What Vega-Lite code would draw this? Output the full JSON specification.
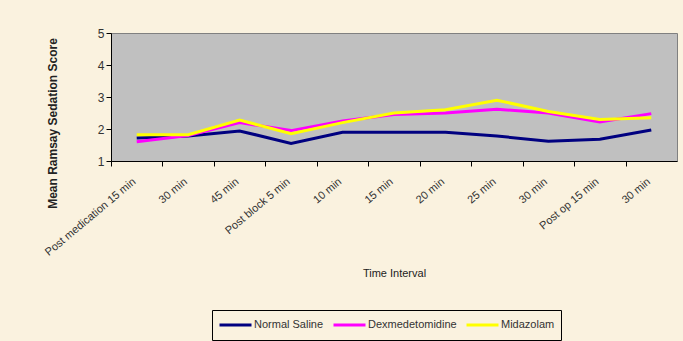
{
  "$schema": "https://vega.github.io/schema/vega-lite/v6.json",
  "autosize": "none",
  "width": 566,
  "height": 128,
  "padding": {"left": 111, "top": 33, "right": 6, "bottom": 180},
  "background": "#faf2df",
  "config": {
    "view": {"fill": "#c0c0c0", "stroke": "#808080", "strokeWidth": 1},
    "font": "Liberation Sans"
  },
  "data": {
    "values": [
      {"step": "Post medication 15 min", "group": "Normal Saline", "score": 1.72},
      {"step": "30 min (pm)", "group": "Normal Saline", "score": 1.78},
      {"step": "45 min (pm)", "group": "Normal Saline", "score": 1.94},
      {"step": "Post block 5 min", "group": "Normal Saline", "score": 1.55},
      {"step": "10 min (pb)", "group": "Normal Saline", "score": 1.9},
      {"step": "15 min (pb)", "group": "Normal Saline", "score": 1.9},
      {"step": "20 min (pb)", "group": "Normal Saline", "score": 1.9},
      {"step": "25 min (pb)", "group": "Normal Saline", "score": 1.78},
      {"step": "30 min (pb)", "group": "Normal Saline", "score": 1.62},
      {"step": "Post op 15 min", "group": "Normal Saline", "score": 1.68},
      {"step": "30 min (po)", "group": "Normal Saline", "score": 1.97},
      {"step": "Post medication 15 min", "group": "Dexmedetomidine", "score": 1.6},
      {"step": "30 min (pm)", "group": "Dexmedetomidine", "score": 1.8},
      {"step": "45 min (pm)", "group": "Dexmedetomidine", "score": 2.2},
      {"step": "Post block 5 min", "group": "Dexmedetomidine", "score": 1.95},
      {"step": "10 min (pb)", "group": "Dexmedetomidine", "score": 2.25},
      {"step": "15 min (pb)", "group": "Dexmedetomidine", "score": 2.45},
      {"step": "20 min (pb)", "group": "Dexmedetomidine", "score": 2.5},
      {"step": "25 min (pb)", "group": "Dexmedetomidine", "score": 2.62},
      {"step": "30 min (pb)", "group": "Dexmedetomidine", "score": 2.5},
      {"step": "Post op 15 min", "group": "Dexmedetomidine", "score": 2.22},
      {"step": "30 min (po)", "group": "Dexmedetomidine", "score": 2.48},
      {"step": "Post medication 15 min", "group": "Midazolam", "score": 1.82},
      {"step": "30 min (pm)", "group": "Midazolam", "score": 1.82},
      {"step": "45 min (pm)", "group": "Midazolam", "score": 2.28},
      {"step": "Post block 5 min", "group": "Midazolam", "score": 1.85},
      {"step": "10 min (pb)", "group": "Midazolam", "score": 2.2},
      {"step": "15 min (pb)", "group": "Midazolam", "score": 2.5},
      {"step": "20 min (pb)", "group": "Midazolam", "score": 2.6},
      {"step": "25 min (pb)", "group": "Midazolam", "score": 2.9},
      {"step": "30 min (pb)", "group": "Midazolam", "score": 2.55},
      {"step": "Post op 15 min", "group": "Midazolam", "score": 2.3},
      {"step": "30 min (po)", "group": "Midazolam", "score": 2.35}
    ]
  },
  "mark": {"type": "line", "strokeWidth": 3},
  "encoding": {
    "x": {
      "field": "step",
      "type": "ordinal",
      "sort": null,
      "scale": {"type": "point", "padding": 0.5},
      "axis": {
        "title": "Time Interval",
        "titleFont": "Liberation Sans",
        "titleFontSize": 11,
        "titleFontWeight": "normal",
        "titleColor": "#222",
        "titleY": 112,
        "titleBaseline": "middle",
        "labelExpr": "split(datum.label, ' (')[0]",
        "labelAngle": -40,
        "labelAlign": "right",
        "labelBaseline": "middle",
        "labelFontSize": 11,
        "labelColor": "#333",
        "labelPadding": 14,
        "tickOffset": -25.73,
        "labelOffset": 23,
        "tickColor": "#000",
        "tickSize": 5,
        "domainColor": "#000",
        "grid": false
      }
    },
    "y": {
      "field": "score",
      "type": "quantitative",
      "scale": {"domain": [1, 5], "nice": false, "zero": false},
      "axis": {
        "title": "Mean Ramsay Sedation Score",
        "titleFontSize": 12,
        "titleFontWeight": "bold",
        "titleColor": "#222",
        "titleX": -59,
        "titleY": 90,
        "titleBaseline": "middle",
        "titleAlign": "center",
        "values": [1, 2, 3, 4, 5],
        "labelFontSize": 12,
        "labelColor": "#333",
        "tickSize": 5,
        "tickColor": "#000",
        "domainColor": "#000",
        "grid": false
      }
    },
    "color": {
      "field": "group",
      "type": "nominal",
      "sort": ["Normal Saline", "Dexmedetomidine", "Midazolam"],
      "scale": {
        "domain": ["Normal Saline", "Dexmedetomidine", "Midazolam"],
        "range": ["#000080", "#ff00ff", "#ffff00"]
      },
      "legend": {
        "title": null,
        "orient": "none",
        "legendX": 101,
        "legendY": 277,
        "direction": "horizontal",
        "symbolType": "stroke",
        "symbolStrokeWidth": 3,
        "symbolSize": 1024,
        "clipHeight": 18,
        "labelOffset": 1,
        "labelFontSize": 11,
        "labelColor": "#333",
        "strokeColor": "#000",
        "fillColor": "#faf2df",
        "padding": 6,
        "columnPadding": 8
      }
    },
    "order": {"field": "group", "sort": "descending"}
  }
}
